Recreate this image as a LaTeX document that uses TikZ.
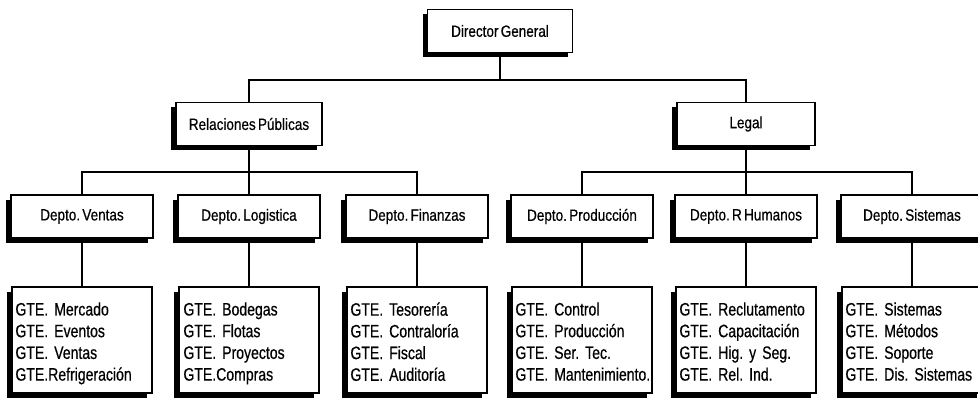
\documentclass[tikz,border=0pt]{standalone}
\usepackage{fontspec}
\setmainfont{Liberation Sans}[FakeStretch=0.83, FakeBold=0.5, WordSpace=0.6]
\newfontfamily\gtefont{Liberation Sans}[FakeStretch=0.78, FakeBold=0.5, WordSpace=0.6]
\usetikzlibrary{shadows}
\begin{document}
\begin{tikzpicture}[x=1pt,y=-1pt,
  orgbox/.style={draw=black, line width=1.5pt, fill=white, inner sep=0pt,
    font=\fontsize{16.3}{20}\selectfont\frenchspacing,
    drop shadow={shadow xshift=-5pt, shadow yshift=-5pt, fill=black, opacity=1}},
  topbox/.style={orgbox, minimum height=43pt},
  deptbox/.style={orgbox, minimum width=142pt, minimum height=43pt},
  gtebox/.style={orgbox, minimum width=140pt, minimum height=106pt},
  gtetext/.style={inner sep=0pt, text width=136pt, align=left, anchor=north west,
    font=\gtefont\fontsize{18}{21.7}\selectfont\frenchspacing},
  conn/.style={draw=black, line width=1.2pt}]
\useasboundingbox (0,0) rectangle (978,401);

% top levels
\node[topbox, minimum width=145pt] (dir) at (500,31) {Director General};
\node[topbox, minimum width=146pt] (rp) at (249,124) {Relaciones Públicas};
\node[topbox, minimum width=138pt] (legal) at (746,124) {Legal};

% departments
\node[deptbox] (dven) at (82,216.5) {Depto. Ventas};
\node[deptbox] (dlog) at (249,216.5) {Depto. Logistica};
\node[deptbox] (dfin) at (417,216.5) {Depto. Finanzas};
\node[deptbox] (dpro) at (582,216.5) {Depto. Producción};
\node[deptbox] (drh) at (746,216.5) {Depto. R Humanos};
\node[deptbox] (dsis) at (912,216.5) {Depto. Sistemas};

% manager boxes
\node[gtebox] (gven) at (82,340) {};
\node[gtebox] (glog) at (249,340) {};
\node[gtebox] (gfin) at (417,340) {};
\node[gtebox] (gpro) at (582,340) {};
\node[gtebox] (grh) at (746,340) {};
\node[gtebox] (gsis) at (912,340) {};

% manager texts
\node[gtetext] (tven) at ([xshift=4pt,yshift=-16pt]gven.north west) {GTE. Mercado\\GTE. Eventos\\GTE. Ventas\\GTE.Refrigeración};
\node[gtetext] (tlog) at ([xshift=5pt,yshift=-16pt]glog.north west) {GTE. Bodegas\\GTE. Flotas\\GTE. Proyectos\\GTE.Compras};
\node[gtetext] (tfin) at ([xshift=4pt,yshift=-16pt]gfin.north west) {GTE. Tesorería\\GTE. Contraloría\\GTE. Fiscal\\GTE. Auditoría};
\node[gtetext] (tpro) at ([xshift=4pt,yshift=-16pt]gpro.north west) {GTE. Control\\GTE. Producción\\GTE. Ser. Tec.\\GTE. Mantenimiento.};
\node[gtetext] (trh) at ([xshift=4pt,yshift=-16pt]grh.north west) {GTE. Reclutamento\\GTE. Capacitación\\GTE. Hig. y Seg.\\GTE. Rel. Ind.};
\node[gtetext] (tsis) at ([xshift=4pt,yshift=-16pt]gsis.north west) {GTE. Sistemas\\GTE. Métodos\\GTE. Soporte\\GTE. Dis. Sistemas};

% buses
\coordinate (bus1) at (500,80);
\coordinate (bus2) at (249,172);
\coordinate (bus3) at (746,172);

\draw[conn] (dir.south) -- (bus1);
\draw[conn] (rp.north) |- (bus1) -| (legal.north);
\draw[conn] (rp.south) -- (dlog.north);
\draw[conn] (dven.north) |- (bus2) -| (dfin.north);
\draw[conn] (legal.south) -- (drh.north);
\draw[conn] (dpro.north) |- (bus3) -| (dsis.north);
\draw[conn] (dven.south) -- (gven.north);
\draw[conn] (dlog.south) -- (glog.north);
\draw[conn] (dfin.south) -- (gfin.north);
\draw[conn] (dpro.south) -- (gpro.north);
\draw[conn] (drh.south) -- (grh.north);
\draw[conn] (dsis.south) -- (gsis.north);
\end{tikzpicture}
\end{document}
